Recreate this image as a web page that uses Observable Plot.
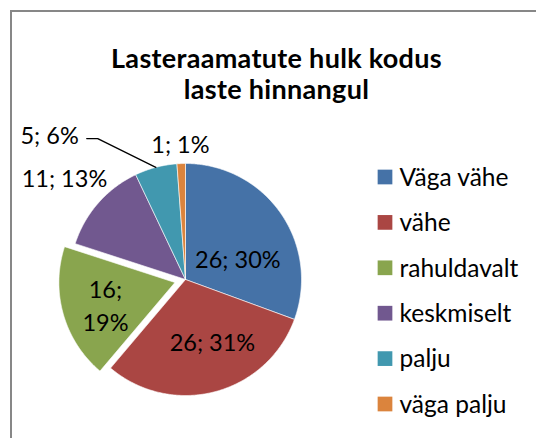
<!DOCTYPE html>
<html><head><meta charset="utf-8">
<script src="https://cdn.jsdelivr.net/npm/d3@7"></script>
<script src="https://cdn.jsdelivr.net/npm/@observablehq/plot@0.6"></script>
<style>
body{margin:0;background:#fff;}
#wrap{position:relative;width:536px;height:438px;overflow:hidden;font-family:Lato,sans-serif;color:#000;}
#frame{position:absolute;left:10px;top:10px;width:700px;height:700px;border-left:2px solid #878787;border-top:2px solid #878787;pointer-events:none;}
#title{position:absolute;left:11px;width:531px;top:41.5px;text-align:center;font-weight:bold;font-size:27px;line-height:31px;letter-spacing:0.3px;}
#chart{position:absolute;left:0;top:0;}
</style></head>
<body>
<div id="wrap">
  <div id="chart"></div>
  <div id="frame"></div>
  <div id="title">Lasteraamatute hulk kodus<br>laste hinnangul</div>
</div>
<script>
// ---- data ----
const categories = ["Väga vähe", "vähe", "rahuldavalt", "keskmiselt", "palju", "väga palju"];
const counts = [26, 26, 16, 11, 5, 1];
const percentLabels = ["30%", "31%", "19%", "13%", "6%", "1%"];
const colors = ["#4572A7", "#AA4643", "#89A54E", "#71588F", "#4198AF", "#DB843D"];
const explodedSlice = "rahuldavalt";

// ---- layout ----
const CX = 185, CY = 279, R = 116, EXPLODE = 11;
const labelPlace = [
  {da: 12, k: 0.49, mode: "mid"},
  {da: -9, k: 0.575, mode: "mid"},
  {da: -1.3, k: 0.627, mode: "mid", wrap: true},
  {da: -0.9, k: 1.37, mode: "mid"},
  {da: -17.1, k: 1.431, mode: "leader"},
  {da: 0, k: 1.178, mode: "mid"}
];
const FS = 23.5;

const total = d3.sum(counts);
const rad = Math.PI / 180;
const pt = (cx, cy, a, r) => [cx + r * Math.sin(a), cy - r * Math.cos(a)];

const slicePts = [], labels = [], leaderLabels = [], leaderPts = [];
let cum = 0;
categories.forEach((cat, i) => {
  const a0 = cum / total * 2 * Math.PI;
  cum += counts[i];
  const a1 = cum / total * 2 * Math.PI;
  const mid = (a0 + a1) / 2;
  let cx = CX, cy = CY;
  if (cat === explodedSlice) { [cx, cy] = pt(CX, CY, mid, EXPLODE); }
  slicePts.push({cat, x: cx, y: cy});
  const n = Math.max(2, Math.ceil((a1 - a0) / (0.5 * rad)));
  for (let j = 0; j <= n; j++) {
    const a = a0 + (a1 - a0) * j / n;
    const [x, y] = pt(cx, cy, a, R);
    slicePts.push({cat, x, y});
  }
  slicePts.push({cat, x: cx, y: cy});

  const lp = labelPlace[i];
  const [lx, ly] = pt(cx, cy, mid + lp.da * rad, lp.k * R);
  const txt = lp.wrap ? `${counts[i]};\n${percentLabels[i]}` : `${counts[i]}; ${percentLabels[i]}`;
  if (lp.mode === "leader") {
    const [ex, ey] = pt(cx, cy, mid, R);
    leaderPts.push({x: lx - 11, y: ly}, {x: lx, y: ly}, {x: ex, y: ey});
    leaderLabels.push({x: lx - 19, y: ly - 2, text: txt});
  } else {
    labels.push({x: lx, y: ly, text: txt});
  }
});

const legend = categories.map((cat, i) => ({cat, x: 384.5, tx: 399, y: 176.5 + i * 45.4}));

const chart = Plot.plot({
  width: 536, height: 438, margin: 0,
  x: {domain: [0, 536], range: [0, 536], axis: null},
  y: {domain: [0, 438], range: [0, 438], axis: null},
  color: {domain: categories, range: colors},
  style: {fontFamily: "Lato, sans-serif", background: "transparent", color: "#000"},
  marks: [
    Plot.line(slicePts, {x: "x", y: "y", z: "cat", fill: "cat", stroke: "white", strokeWidth: 0.6, curve: "linear", strokeLinejoin: "round"}),
    Plot.line(leaderPts, {x: "x", y: "y", stroke: "black", strokeWidth: 1.3}),
    Plot.text(labels, {x: "x", y: "y", text: "text", fontSize: FS, lineHeight: 1.4, fill: "black"}),
    Plot.text(leaderLabels, {x: "x", y: "y", text: "text", fontSize: FS, textAnchor: "end", fill: "black"}),
    Plot.dot(legend, {x: "x", y: "y", symbol: "square", r: 8.3, fill: "cat", stroke: null}),
    Plot.text(legend, {x: "tx", y: "y", text: "cat", dy: 1, fontSize: 24.5, textAnchor: "start", fill: "black"})
  ]
});
document.getElementById("chart").appendChild(chart);
</script>
</body></html>
